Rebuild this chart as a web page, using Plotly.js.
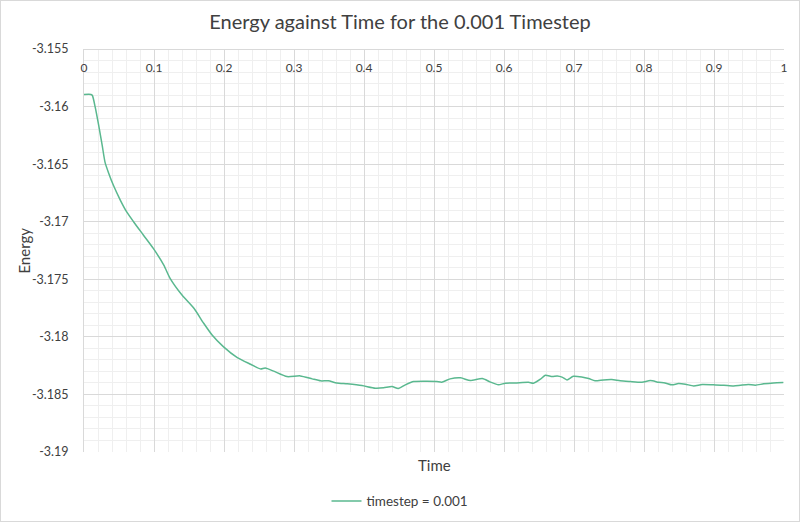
<!DOCTYPE html>
<html>
<head>
<meta charset="utf-8">
<script src="https://cdn.plot.ly/plotly-3.0.1.min.js"></script>
<style>
  html, body { margin: 0; padding: 0; background: #ffffff; }
  #wrap { position: relative; width: 800px; height: 522px; }
  #chart { width: 800px; height: 522px; }
  #frame { position: absolute; left: 0; top: 0; width: 800px; height: 522px;
           box-sizing: border-box; border: 1px solid #d9d9d9; pointer-events: none; }
</style>
</head>
<body>
<div id="wrap">
  <div id="chart"></div>
  <div id="frame"></div>
</div>
<script>
// Simulation time (reduced units)
const time = [
  0, 0.01, 0.012, 0.016, 0.021, 0.026, 0.030, 0.035, 0.042, 0.052, 0.061, 0.071, 0.085, 0.099,
  0.114, 0.123, 0.140, 0.157, 0.171, 0.183, 0.199, 0.219, 0.238, 0.252, 0.259, 0.271, 0.290,
  0.309, 0.326, 0.338, 0.349, 0.361, 0.376, 0.397, 0.416, 0.428, 0.440, 0.449, 0.459, 0.471,
  0.490, 0.504, 0.511, 0.523, 0.538, 0.552, 0.569, 0.580, 0.592, 0.602, 0.616, 0.635, 0.642,
  0.652, 0.659, 0.669, 0.676, 0.683, 0.690, 0.699, 0.711, 0.721, 0.730, 0.742, 0.754, 0.766,
  0.780, 0.797, 0.809, 0.821, 0.830, 0.840, 0.849, 0.859, 0.871, 0.883, 0.899, 0.914, 0.928,
  0.938, 0.949, 0.959, 0.971, 0.985, 0.999
];

// Total energy per particle for timestep = 0.001
const energy = [
  -3.15895, -3.15895, -3.15904, -3.16005, -3.16164, -3.16337, -3.16482, -3.16574, -3.16684,
  -3.16814, -3.16915, -3.17002, -3.17117, -3.17232, -3.17377, -3.17492, -3.17637, -3.17752,
  -3.17882, -3.17984, -3.18085, -3.18180, -3.18238, -3.18278, -3.18270, -3.18298, -3.18345,
  -3.18339, -3.18365, -3.18382, -3.18382, -3.18400, -3.18408, -3.18423, -3.18446, -3.18443,
  -3.18432, -3.18449, -3.18417, -3.18388, -3.18385, -3.18388, -3.18394, -3.18365, -3.18356,
  -3.18380, -3.18362, -3.18391, -3.18417, -3.18402, -3.18400, -3.18394, -3.18402, -3.18368,
  -3.18333, -3.18345, -3.18339, -3.18350, -3.18374, -3.18342, -3.18348, -3.18362, -3.18382,
  -3.18374, -3.18371, -3.18382, -3.18388, -3.18394, -3.18380, -3.18394, -3.18400, -3.18417,
  -3.18406, -3.18411, -3.18426, -3.18414, -3.18417, -3.18420, -3.18426, -3.18420, -3.18414,
  -3.18420, -3.18408, -3.18400, -3.18397
];

const seriesName = 'timestep = 0.001';

const xTickVals = [0, 0.1, 0.2, 0.3, 0.4, 0.5, 0.6, 0.7, 0.8, 0.9, 1];
const xTickText = ['0', '0.1', '0.2', '0.3', '0.4', '0.5', '0.6', '0.7', '0.8', '0.9', '1'];
const yTickVals = [-3.155, -3.16, -3.165, -3.17, -3.175, -3.18, -3.185, -3.19];
const yTickText = ['-3.155', '-3.16', '-3.165', '-3.17', '-3.175', '-3.18', '-3.185', '-3.19'];

const FONT = 'Lato, "Open Sans", sans-serif';
const GRID = '#d9d9d9';
const MINOR = '#efefef';
const TEXT = '#404040';

const trace = {
  x: time,
  y: energy,
  type: 'scatter',
  mode: 'lines',
  name: seriesName,
  line: { color: '#5ab88f', width: 1.5, shape: 'spline', smoothing: 0.6 }
};

const layout = {
  width: 800,
  height: 522,
  margin: { l: 84, r: 16, t: 49, b: 70, pad: 0 },
  paper_bgcolor: '#ffffff',
  plot_bgcolor: '#ffffff',
  font: { family: FONT, color: TEXT, size: 12 },
  title: {
    text: 'Energy against Time for the 0.001 Timestep',
    font: { family: FONT, size: 20, color: TEXT },
    x: 0.5, xanchor: 'center', y: 0.958, yanchor: 'middle'
  },
  // horizontal axis crosses at the top of the value range; labels hang just under it
  xaxis: {
    side: 'bottom',
    anchor: 'free',
    position: 1,
    range: [0, 1],
    tickmode: 'array',
    tickvals: xTickVals,
    ticktext: xTickText,
    ticks: '',
    ticklabelstandoff: 8,
    showline: true,
    linecolor: GRID,
    linewidth: 1,
    gridcolor: GRID,
    gridwidth: 1,
    zeroline: false,
    automargin: false,
    tickfont: { family: FONT, size: 12, color: TEXT },
    minor: { dtick: 0.02, showgrid: true, gridcolor: MINOR, gridwidth: 1 }
  },
  yaxis: {
    range: [-3.19, -3.155],
    tickmode: 'array',
    tickvals: yTickVals,
    ticktext: yTickText,
    ticks: '',
    ticklabelstandoff: 12,
    showline: true,
    linecolor: GRID,
    linewidth: 1,
    gridcolor: GRID,
    gridwidth: 1,
    zeroline: false,
    automargin: false,
    tickfont: { family: FONT, size: 12.5, color: TEXT },
    minor: { dtick: 0.001, showgrid: true, gridcolor: MINOR, gridwidth: 1 }
  },
  showlegend: true,
  legend: {
    orientation: 'h',
    xref: 'container', x: 0.5, xanchor: 'center',
    yref: 'container', y: 0.04, yanchor: 'middle',
    font: { family: FONT, size: 13.5, color: TEXT },
    itemwidth: 30
  },
  annotations: [
    {
      text: 'Time',
      xref: 'paper', yref: 'paper',
      x: 0.5, y: -0.032,
      xanchor: 'center', yanchor: 'middle',
      showarrow: false,
      font: { family: FONT, size: 15, color: TEXT }
    },
    {
      text: 'Energy',
      xref: 'paper', yref: 'paper',
      x: -0.087, y: 0.5,
      xanchor: 'center', yanchor: 'middle',
      textangle: -90,
      showarrow: false,
      font: { family: FONT, size: 15, color: TEXT }
    }
  ]
};

Plotly.newPlot('chart', [trace], layout, { displayModeBar: false, staticPlot: true });
</script>
</body>
</html>
